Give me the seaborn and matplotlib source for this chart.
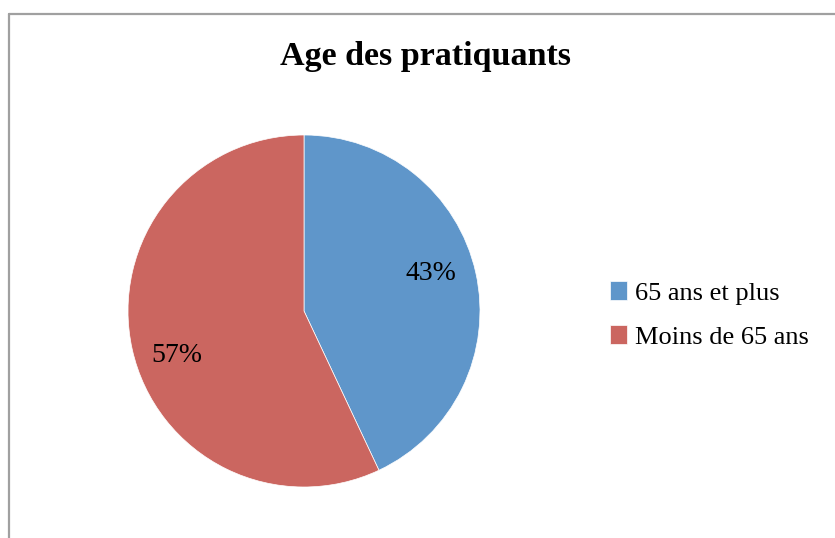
import matplotlib
matplotlib.use("Agg")
import matplotlib.pyplot as plt
import seaborn as sns
from matplotlib.lines import Line2D

categories = ["65 ans et plus", "Moins de 65 ans"]
values = [43, 57]
colors = ["#5F96CA", "#CB6660"]
title = "Age des pratiquants"

sns.set_theme(style="white")
plt.rcParams['font.family'] = ['Liberation Serif', 'DejaVu Serif']
plt.rcParams['text.color'] = 'black'

W, H = 835, 538
fig = plt.figure(figsize=(W / 100, H / 100), dpi=100)

cx, cy, r = 304, 311, 176
ax = fig.add_axes([(cx - r) / W, 1 - (cy + r) / H, 2 * r / W, 2 * r / H])
wedges, texts, autotexts = ax.pie(
    values, colors=colors, startangle=90, counterclock=False,
    autopct=lambda p: f"{p:.0f}%", pctdistance=0.74,
    wedgeprops=dict(linewidth=0.5, edgecolor="white"),
    textprops=dict(fontsize=20, color="black"))
# nudge labels to match the original placement
for t, dy in zip(autotexts, [0.05, -0.09]):
    x, y = t.get_position()
    t.set_position((x, y + dy))
ax.set_xlim(-1, 1)
ax.set_ylim(-1, 1)
ax.set_aspect("equal")
ax.axis("off")

fig.text(425 / W, 1 - 57 / H, title, ha="center", va="center",
         fontsize=24.5, fontweight="bold", color="black")

leg = fig.legend(wedges, categories, loc="center left",
                 bbox_to_anchor=(586 / W, 1 - 315 / H), frameon=False,
                 fontsize=19, handlelength=0.65, handleheight=0.7,
                 handletextpad=0.3, labelspacing=0.78)
for t in leg.get_texts():
    t.set_color("black")

# chart border (left and top edges visible)
fig.add_artist(Line2D([9 / W, 9 / W], [0, 1 - 14 / H], transform=fig.transFigure,
                      color="#A0A0A0", linewidth=1.6))
fig.add_artist(Line2D([9 / W, 1], [1 - 14 / H, 1 - 14 / H], transform=fig.transFigure,
                      color="#A0A0A0", linewidth=1.6))

fig.savefig("out.png", dpi=100, facecolor="white")
